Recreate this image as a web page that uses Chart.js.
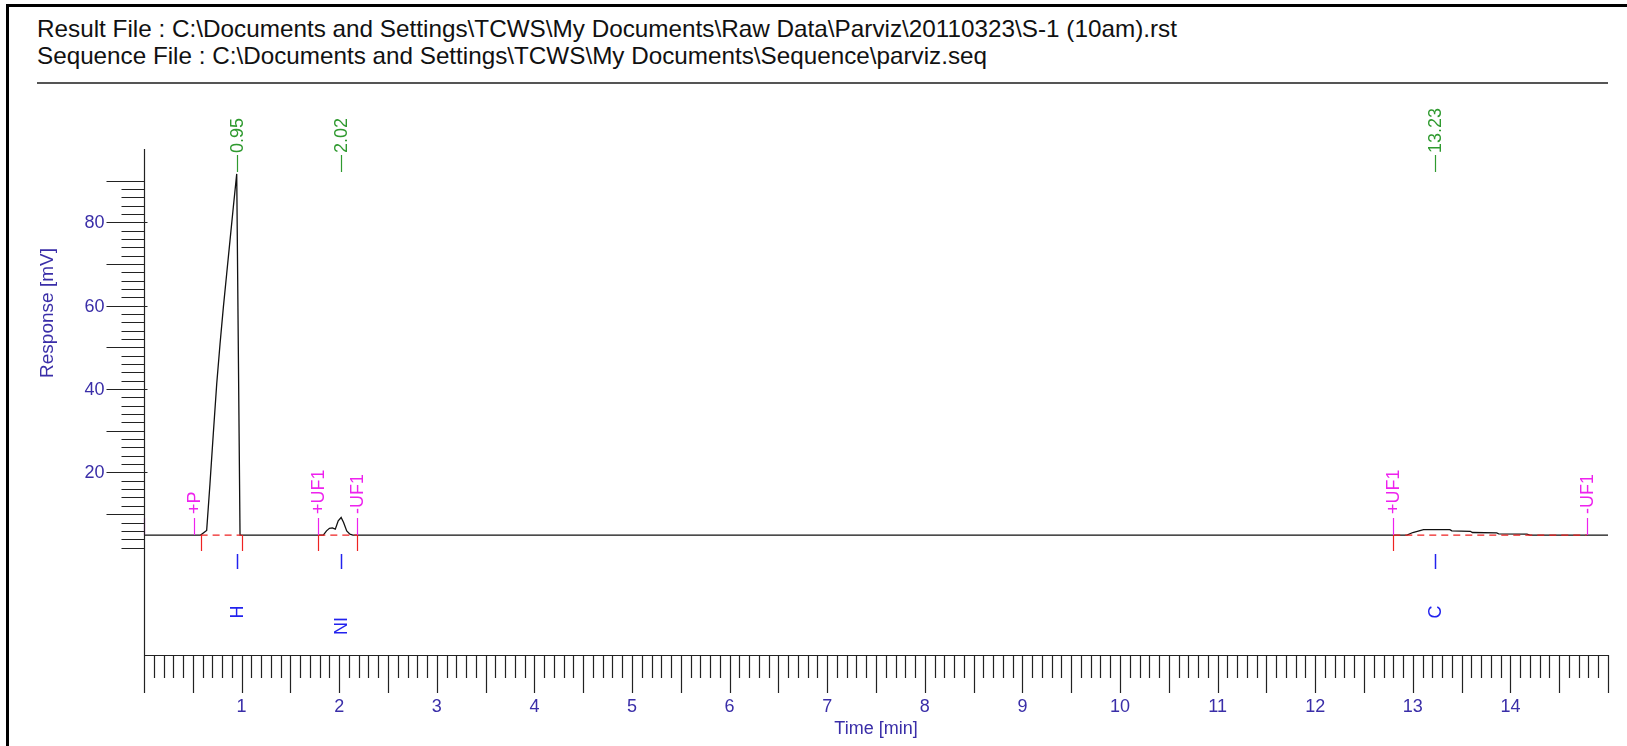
<!DOCTYPE html>
<html>
<head>
<meta charset="utf-8">
<script src="https://cdn.jsdelivr.net/npm/chart.js@4.4.1/dist/chart.umd.min.js"></script>
<style>
html, body { margin: 0; padding: 0; background: #fff; }
#wrap { position: relative; width: 1627px; height: 746px; overflow: hidden; }
#frame { position: absolute; left: 6px; top: 4px; width: 1700px; height: 800px;
  border-left: 3px solid #000; border-top: 3px solid #000; box-sizing: border-box; }
.hdr { position: absolute; left: 37px; font-family: "Liberation Sans", Arial, sans-serif;
  font-size: 24px; line-height: 27px; white-space: nowrap; color: #111; transform-origin: 0 0; }
#rule { position: absolute; left: 37px; top: 82px; width: 1571px; height: 2px; background: #555; }
canvas { position: absolute; left: 0; top: 0; }
</style>
</head>
<body>
<div id="wrap">
  <div id="frame"></div>
  <span class="hdr" id="line1" style="top:15px">Result File : C:\Documents and Settings\TCWS\My Documents\Raw Data\Parviz\20110323\S-1 (10am).rst</span>
  <span class="hdr" id="line2" style="top:42px">Sequence File : C:\Documents and Settings\TCWS\My Documents\Sequence\parviz.seq</span>
  <div id="rule"></div>
  <canvas id="myChart" width="1627" height="746"></canvas>
</div>
<script>
// Chromatogram trace (time in min, response in mV)
const traceTime = [0, 0.58, 0.642, 0.676, 0.71, 0.745, 0.779, 0.813, 0.847, 0.881, 0.915, 0.95, 0.984,
    1.837, 1.87, 1.90, 1.93, 1.96, 1.99, 2.02, 2.045, 2.077, 2.11, 2.14,
    12.94, 13.0, 13.11, 13.38, 13.40, 13.59, 13.61, 13.86, 13.88, 14.17, 14.2, 15];
const traceResponse = [5, 5, 6.1, 17.3, 29.3, 41.2, 50.8, 59.6, 67.6, 75.6, 83.6, 91.6, 5,
    5, 6.0, 6.6, 6.7, 6.4, 8.4, 9.2, 8.0, 6.0, 5.2, 5,
    5, 5.6, 6.3, 6.3, 6.0, 5.9, 5.6, 5.5, 5.3, 5.2, 5, 5];
const baselineLevel = 5;

// Peaks
const peakTimes = [0.95, 2.02, 13.23];
const peakLabels = ['0.95', '2.02', '13.23'];
const peakNames = ['H', 'NI', 'C'];
const peakStart = [0.58, 1.786, 12.80];
const peakEnd = [1.0, 2.185, 14.78];

// Integration events
const eventTimes = [0, 0.515, 1.786, 2.185, 12.80, 14.78];
const eventLabels = ['', '+P', '+UF1', '-UF1', '+UF1', '-UF1'];
const cutTimes = [0.58, 1.0, 1.786, 2.185, 12.80];

// Axis labels
const xTickLabels = [1, 2, 3, 4, 5, 6, 7, 8, 9, 10, 11, 12, 13, 14];
const yTickLabels = [20, 40, 60, 80];
const xTitle = 'Time [min]';
const yTitle = 'Response [mV]';

document.addEventListener("DOMContentLoaded", function () {
    // squeeze the header lines to the width they have in the print
    const fitHeader = function (id, target) {
        const el = document.getElementById(id);
        const w = el.getBoundingClientRect().width;
        el.style.transform = 'scaleX(' + (target / w) + ')';
    };
    fitHeader('line1', 1140);
    fitHeader('line2', 950);

    const FONT = '"Liberation Sans", Arial, sans-serif';
    const AXIS_BLUE = '#3a2ea8';

    /*
        Draws the ruler axes and all the peak annotations
    */
    const decorPlugin = {
        id: 'decor',
        afterDatasetsDraw(chart) {
            const ctx = chart.ctx;
            const xs = chart.scales.x;
            const ys = chart.scales.y;
            const area = chart.chartArea;
            const px = t => Math.round(xs.getPixelForValue(t)) + 0.5;
            const yBase = ys.getPixelForValue(baselineLevel);
            const x0 = px(0);
            const xEnd = px(15);

            ctx.save();

            // red dashed baselines under each peak
            ctx.strokeStyle = '#ee2222';
            ctx.lineWidth = 1.2;
            ctx.setLineDash([7, 5]);
            peakStart.forEach((s, i) => {
                ctx.beginPath();
                ctx.moveTo(xs.getPixelForValue(s), yBase);
                ctx.lineTo(xs.getPixelForValue(peakEnd[i]), yBase);
                ctx.stroke();
            });
            ctx.setLineDash([]);

            // red cut marks below baseline
            cutTimes.forEach(t => {
                ctx.beginPath();
                ctx.moveTo(px(t), yBase);
                ctx.lineTo(px(t), yBase + 16);
                ctx.stroke();
            });

            // magenta events
            ctx.strokeStyle = '#ee22ee';
            ctx.fillStyle = '#ee22ee';
            ctx.font = '18px ' + FONT;
            eventTimes.forEach((t, i) => {
                const x = px(t);
                ctx.beginPath();
                ctx.moveTo(x, yBase);
                ctx.lineTo(x, yBase - 17);
                ctx.stroke();
                if (eventLabels[i]) {
                    ctx.save();
                    ctx.translate(x, yBase - 21);
                    ctx.rotate(-Math.PI / 2);
                    ctx.textAlign = 'left';
                    ctx.textBaseline = 'middle';
                    ctx.fillText(eventLabels[i], 0, 1);
                    ctx.restore();
                }
            });

            // green retention times
            ctx.strokeStyle = '#2f9a2f';
            ctx.fillStyle = '#2f9a2f';
            ctx.font = '18px ' + FONT;
            peakTimes.forEach((t, i) => {
                const x = px(t);
                ctx.beginPath();
                ctx.moveTo(x, 155);
                ctx.lineTo(x, 172);
                ctx.stroke();
                ctx.save();
                ctx.translate(x, 153);
                ctx.rotate(-Math.PI / 2);
                ctx.textAlign = 'left';
                ctx.textBaseline = 'middle';
                ctx.fillText(peakLabels[i], 0, 1);
                ctx.restore();
            });

            // blue peak markers and names
            ctx.strokeStyle = '#2222ee';
            ctx.fillStyle = '#2222ee';
            ctx.lineWidth = 1.5;
            ctx.font = '18px ' + FONT;
            const nameShift = { NI: 14 };
            peakTimes.forEach((t, i) => {
                const x = px(t);
                ctx.beginPath();
                ctx.moveTo(x, yBase + 19);
                ctx.lineTo(x, yBase + 34);
                ctx.stroke();
                ctx.save();
                ctx.translate(x, 612 + (nameShift[peakNames[i]] || 0));
                ctx.rotate(-Math.PI / 2);
                ctx.textAlign = 'center';
                ctx.textBaseline = 'middle';
                ctx.fillText(peakNames[i], 0, 1);
                ctx.restore();
            });

            // axes
            ctx.strokeStyle = '#222';
            ctx.lineWidth = 1.2;
            ctx.beginPath();
            ctx.moveTo(x0, area.top);
            ctx.lineTo(x0, area.bottom);
            ctx.moveTo(x0, area.bottom + 0.5);
            ctx.lineTo(xEnd, area.bottom + 0.5);
            ctx.stroke();

            // time ruler
            ctx.beginPath();
            for (let i = 0; i <= 150; i++) {
                const x = px(i / 10);
                const len = (i % 5 === 0) ? 38 : 23;
                ctx.moveTo(x, area.bottom);
                ctx.lineTo(x, area.bottom + len);
            }
            ctx.stroke();

            // response ruler
            ctx.beginPath();
            for (let v = 2; v <= 90; v += 2) {
                const y = Math.round(ys.getPixelForValue(v)) + 0.5;
                const len = (v % 10 === 0) ? 38 : 23;
                const over = yTickLabels.includes(v) ? 3 : 0;
                ctx.moveTo(x0 - len, y);
                ctx.lineTo(x0 + over, y);
            }
            ctx.stroke();

            // tick labels
            ctx.fillStyle = AXIS_BLUE;
            ctx.font = '18px ' + FONT;
            ctx.textAlign = 'center';
            ctx.textBaseline = 'alphabetic';
            xTickLabels.forEach(v => {
                ctx.fillText(String(v), xs.getPixelForValue(v), 712);
            });
            ctx.textAlign = 'right';
            ctx.textBaseline = 'middle';
            yTickLabels.forEach(v => {
                ctx.fillText(String(v), x0 - 40, ys.getPixelForValue(v) + 1);
            });

            // axis titles
            ctx.textAlign = 'center';
            ctx.textBaseline = 'alphabetic';
            ctx.fillText(xTitle, 876, 734);
            ctx.save();
            ctx.translate(48, 313);
            ctx.rotate(-Math.PI / 2);
            ctx.font = '19px ' + FONT;
            ctx.textBaseline = 'middle';
            ctx.fillText(yTitle, 0, 0);
            ctx.restore();

            ctx.restore();
        }
    };

    const points = traceTime.map((t, i) => ({ x: t, y: traceResponse[i] }));

    const ctx = document.getElementById('myChart').getContext('2d');
    const myChart = new Chart(ctx, {
        type: 'line',
        data: {
            datasets: [{
                label: 'Response',
                data: points,
                borderColor: '#111',
                borderWidth: 1.3,
                pointRadius: 0,
                tension: 0,
                fill: false
            }]
        },
        options: {
            responsive: false,
            animation: false,
            layout: { padding: { left: 144, right: 19, top: 149, bottom: 91 } },
            plugins: { legend: { display: false }, tooltip: { enabled: false } },
            scales: {
                x: { type: 'linear', min: 0, max: 15, display: false },
                y: { min: -23.77, max: 97.57, display: false }
            }
        },
        plugins: [decorPlugin]
    });
});
</script>
</body>
</html>
